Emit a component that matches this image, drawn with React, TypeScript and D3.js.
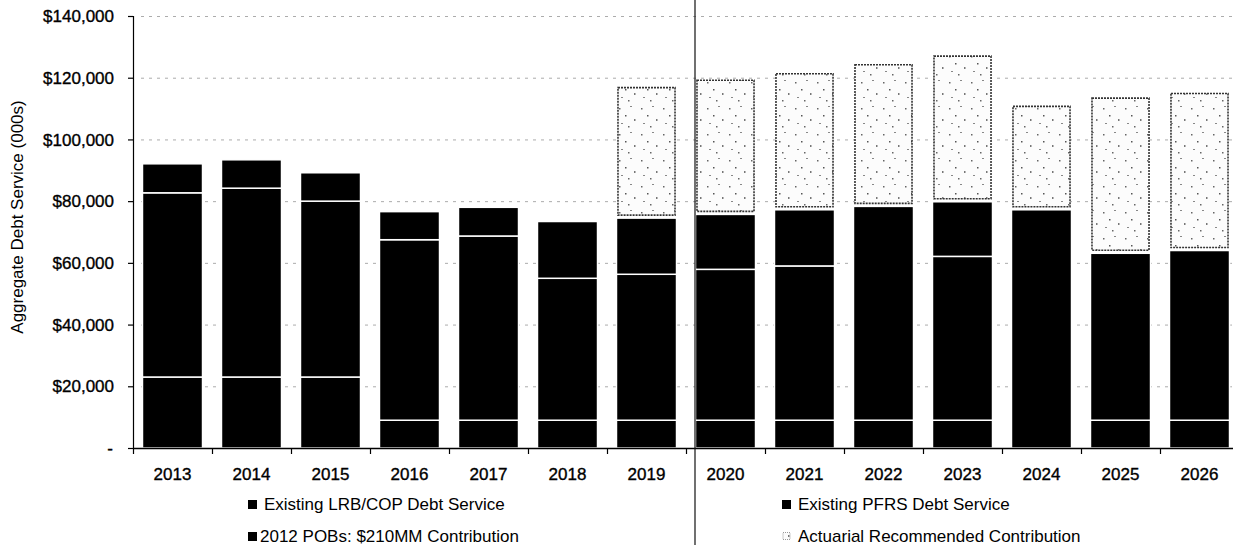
import React from 'react';
import * as d3 from 'd3';

const years = ['2013', '2014', '2015', '2016', '2017', '2018', '2019', '2020', '2021', '2022', '2023', '2024', '2025', '2026'];
const lrbCop = [23000, 23000, 23000, 9000, 9000, 9000, 9000, 9000, 9000, 9000, 9000, 0, 9000, 9000];
const pfrs = [59700, 61200, 57000, 58500, 59700, 46000, 47300, 48900, 50000, 69300, 53100, 77200, 54100, 55000];
const pobs = [9400, 9200, 9200, 9100, 9300, 18400, 18200, 17800, 18200, 0, 17700, 0, 0, 0];
const actuarial = [0, 0, 0, 0, 0, 0, 42300, 43500, 44100, 45900, 47200, 33500, 50300, 50900];
const yTicks = [0, 20000, 40000, 60000, 80000, 100000, 120000, 140000];
const legendLabels = [
  'Existing LRB/COP Debt Service',
  'Existing PFRS Debt Service',
  '2012 POBs: $210MM Contribution',
  'Actuarial Recommended Contribution',
];

const W = 1233;
const H = 545;
const FONT = '"Liberation Sans", Arial, Helvetica, sans-serif';

export default function App() {
  const left = 133;
  const right = 1239;
  const top = 16;
  const bottom = 448;

  const x = d3.scaleBand<string>().domain(years).range([left, right]).paddingInner(0.24).paddingOuter(0.12);
  const y = d3.scaleLinear().domain([0, 140000]).range([bottom, top]);
  const step = x.step();

  const rows = years.map((yr, i) => ({ year: yr, lrb: lrbCop[i], pfrs: pfrs[i], pob: pobs[i], act: actuarial[i] }));
  const stack = d3.stack<any>().keys(['lrb', 'pfrs', 'pob', 'act']);
  const series = stack(rows);

  const fmt = (v: number) => (v === 0 ? '-' : '$' + d3.format(',')(v));

  return (
    <svg width={W} height={H} style={{ position: 'absolute', left: 0, top: 0, background: '#fff' }} fontFamily={FONT}>
      <defs>
        <pattern id="speck" width="22" height="26" patternUnits="userSpaceOnUse">
          <rect width="22" height="26" fill="#fcfcfc" />
          <rect x="3" y="4" width="1.5" height="1.5" fill="#666" />
          <rect x="14" y="2" width="2" height="1" fill="#888" />
          <rect x="9" y="11" width="1.5" height="1.5" fill="#555" />
          <rect x="18" y="15" width="1.5" height="2" fill="#777" />
          <rect x="5" y="19" width="2" height="1" fill="#888" />
          <rect x="12" y="22" width="1.5" height="1.5" fill="#666" />
        </pattern>
      </defs>

      {/* gridlines */}
      {yTicks.filter((t) => t > 0).map((t) => (
        <line key={'g' + t} x1={left + 8} x2={W} y1={y(t) + 0.5} y2={y(t) + 0.5} stroke="#8a8a8a" strokeWidth={1} strokeDasharray="3,5" opacity={0.7} />
      ))}

      {/* black stacked segments */}
      {series.slice(0, 3).map((s) => (
        <g key={s.key}>
          {s.map((d, i) => {
            const h = y(d[0]) - y(d[1]);
            if (h <= 0) return null;
            return (
              <rect key={i} x={x(years[i])} y={y(d[1])} width={x.bandwidth()} height={h} fill="#000" stroke="#fff" strokeWidth={1.5} />
            );
          })}
        </g>
      ))}

      {/* actuarial segments */}
      {series[3].map((d, i) => {
        const h = y(d[0]) - y(d[1]) - 3;
        if (actuarial[i] <= 0) return null;
        return (
          <rect key={'a' + i} x={(x(years[i]) as number) + 1.5} y={y(d[1])} width={x.bandwidth() - 3} height={h}
            fill="url(#speck)" stroke="#333" strokeWidth={1.6} strokeDasharray="2,1" />
        );
      })}

      {/* y axis */}
      <line x1={left + 0.5} x2={left + 0.5} y1={top} y2={bottom + 1} stroke="#000" strokeWidth={1.2} />
      {yTicks.map((t) => (
        <g key={'y' + t}>
          <line x1={left - 5} x2={left} y1={y(t) + 0.5} y2={y(t) + 0.5} stroke="#000" strokeWidth={1.2} />
          <text x={t === 0 ? 113 : 114} y={y(t)} dy="0.36em" textAnchor="end" fontSize={17} fill="#000" stroke="#000" strokeWidth={0.35}>
            {fmt(t)}
          </text>
        </g>
      ))}
      <text transform={`translate(23,217) rotate(-90)`} textAnchor="middle" fontSize={17} fill="#000">
        Aggregate Debt Service (000s)
      </text>

      {/* x axis */}
      <line x1={left} x2={W} y1={bottom + 0.5} y2={bottom + 0.5} stroke="#000" strokeWidth={1.3} />
      {years.map((yr, i) => (
        <line key={'xt' + i} x1={left + i * step + 0.5} x2={left + i * step + 0.5} y1={bottom} y2={bottom + 6} stroke="#000" strokeWidth={1.2} />
      ))}
      {years.map((yr) => (
        <text key={'xl' + yr} x={(x(yr) as number) + x.bandwidth() / 2} y={480} textAnchor="middle" fontSize={17} fill="#000" stroke="#000" strokeWidth={0.35}>
          {yr}
        </text>
      ))}

      {/* divider */}
      <line x1={695} x2={695} y1={0} y2={H} stroke="#111" strokeWidth={1.2} />

      {/* legend */}
      {legendLabels.map((lab, i) => {
        const col = i % 2;
        const row = Math.floor(i / 2);
        const lx = col === 0 ? 248 : 782;
        const ly = row === 0 ? 510 : 542;
        const isAct = i === 3;
        return (
          <g key={'lg' + i}>
            {isAct ? (
              <rect x={lx + 1} y={ly - 9.5} width={7} height={7} fill="url(#speck)" stroke="#999" strokeWidth={1} strokeDasharray="1,1" />
            ) : (
              <rect x={lx} y={ly - 10} width={9} height={9} fill="#000" />
            )}
            <text x={lx + (i === 2 ? 12 : 16)} y={ly} fontSize={17} fill="#000">
              {lab}
            </text>
          </g>
        );
      })}
    </svg>
  );
}
